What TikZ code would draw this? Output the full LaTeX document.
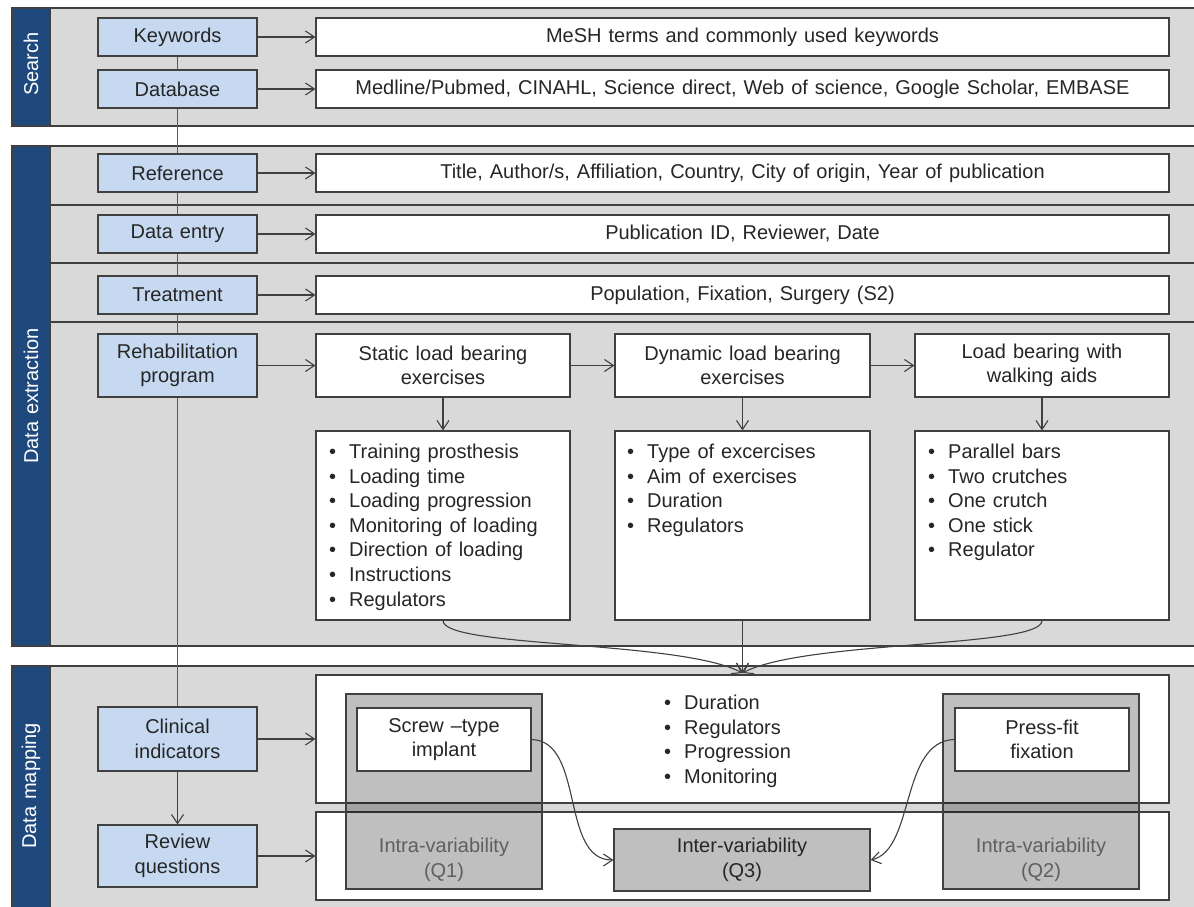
\documentclass[tikz,border=0pt]{standalone}
\usepackage{fontspec}
\setmainfont{Liberation Sans}
\usetikzlibrary{arrows.meta,backgrounds}
\definecolor{panelgray}{HTML}{D9D9D9}
\definecolor{stripblue}{HTML}{1F497D}
\definecolor{boxblue}{HTML}{C6D9F1}
\definecolor{edgecol}{HTML}{404040}
\definecolor{txtcol}{HTML}{262626}
\definecolor{linkcol}{HTML}{5A5A5A}
\definecolor{intratxt}{HTML}{5F5F5F}
\definecolor{interfill}{HTML}{BFBFBF}
\newcommand\lbul{\makebox[20pt][l]{\textbullet}}
\newcommand\diagfont{\fontsize{20}{24.6}\selectfont\fontdimen2\font=7pt\relax}
\begin{document}
\begin{tikzpicture}[x=1pt,y=-1pt,
  font=\diagfont, text=txtcol,
  panel/.style={fill=panelgray, draw=edgecol, line width=1.2pt},
  strip/.style={fill=stripblue, draw=edgecol, line width=1.2pt},
  striplabel/.style={rotate=90, text=white, inner sep=0pt},
  bluebox/.style={draw=edgecol, line width=1.2pt, fill=boxblue, inner sep=0pt, align=center, minimum width=159pt},
  whitebox/.style={draw=edgecol, line width=1.2pt, fill=white, inner sep=0pt, align=center},
  listtext/.style={anchor=north west, inner sep=0pt, align=left},
  intrabox/.style={draw=edgecol, line width=1.2pt, fill=black, fill opacity=0.25, minimum width=196pt, minimum height=195pt},
  arr/.style={draw=edgecol, line width=1.1pt, -{Straight Barb[length=9pt,width=12pt,line width=1.1pt]}},
  link/.style={draw=linkcol, line width=1.4pt}]

\useasboundingbox (0,0) rectangle (1194,906);

% ---- left blue boxes
\node[bluebox, minimum height=38pt] (keywords) at (177.5,37) {Keywords};
\node[bluebox, minimum height=38pt] (database) at (177.5,89) {Database};
\node[bluebox, minimum height=38pt] (reference) at (177.5,173) {Reference};
\node[bluebox, minimum height=38pt] (dataentry) at (177.5,234) {Data entry};
\node[bluebox, minimum height=38pt] (treatment) at (177.5,295) {Treatment};
\node[bluebox, minimum height=63pt] (rehab) at (177.5,365.5) {Rehabilitation\\program};
\node[bluebox, minimum height=64pt] (clinical) at (177.5,739) {Clinical\\indicators};
\node[bluebox, minimum height=62pt] (review) at (177.5,856) {Review\\questions};

% ---- right wide boxes
\node[whitebox, minimum width=853pt, minimum height=38pt] (kwtext) at (742.5,37) {MeSH terms and commonly used keywords};
\node[whitebox, minimum width=853pt, minimum height=38pt] (dbtext) at (742.5,89) {Medline/Pubmed, CINAHL, Science direct, Web of science, Google Scholar, EMBASE};
\node[whitebox, minimum width=853pt, minimum height=38pt] (reftext) at (742.5,173) {Title, Author/s, Affiliation, Country, City of origin, Year of publication};
\node[whitebox, minimum width=853pt, minimum height=38pt] (detext) at (742.5,234) {Publication ID, Reviewer, Date};
\node[whitebox, minimum width=853pt, minimum height=38pt] (trtext) at (742.5,295) {Population, Fixation, Surgery (S2)};

% ---- rehabilitation row
\node[whitebox, minimum width=254pt, minimum height=63pt] (static) at (443,365.5) {Static load bearing\\exercises};
\node[whitebox, minimum width=255pt, minimum height=63pt] (dynamic) at (742.5,365.5) {Dynamic load bearing\\exercises};
\node[whitebox, minimum width=254pt, minimum height=63pt] (walking) at (1042,365.5) {Load bearing with\\walking aids};

\node[whitebox, minimum width=254pt, minimum height=189pt] (list1) at (443,525.5) {};
\node[whitebox, minimum width=255pt, minimum height=189pt] (list2) at (742.5,525.5) {};
\node[whitebox, minimum width=254pt, minimum height=189pt] (list3) at (1042,525.5) {};

\node[listtext] (list1txt) at (329,441) {\strut\lbul Training prosthesis\\\lbul Loading time\\\lbul Loading progression\\\lbul Monitoring of loading\\\lbul Direction of loading\\\lbul Instructions\\\lbul Regulators};
\node[listtext] (list2txt) at (627,441) {\strut\lbul Type of excercises\\\lbul Aim of exercises\\\lbul Duration\\\lbul Regulators};
\node[listtext] (list3txt) at (928,441) {\strut\lbul Parallel bars\\\lbul Two crutches\\\lbul One crutch\\\lbul One stick\\\lbul Regulator};

% ---- data mapping
\node[whitebox, minimum width=853pt, minimum height=128pt] (maptop) at (742.5,739) {};
\node[whitebox, minimum width=853pt, minimum height=88pt] (mapbot) at (742.5,856) {};
\node[listtext] (maplist) at (664,692) {\strut\lbul Duration\\\lbul Regulators\\\lbul Progression\\\lbul Monitoring};

\node[intrabox] (intra1) at (444,791.5) {};
\node[intrabox] (intra2) at (1041,791.5) {};
\node[whitebox, minimum width=174pt, minimum height=63pt] (screw) at (444,739.5) {Screw –type\\implant};
\node[whitebox, minimum width=174pt, minimum height=63pt] (press) at (1042,739.5) {Press-fit\\fixation};
\node[align=center, text=intratxt, inner sep=0pt] (intra1txt) at (444,860) {Intra-variability\\(Q1)};
\node[align=center, text=intratxt, inner sep=0pt] (intra2txt) at (1041,860) {Intra-variability\\(Q2)};
\node[draw=edgecol, line width=1.2pt, fill=interfill, align=center, inner sep=0pt, minimum width=256pt, minimum height=62pt] (inter) at (742,860) {Inter-variability\\(Q3)};

\coordinate (merge) at (742.5,673);

% ---- background panels and spine
\begin{pgfonlayer}{background}
  \draw[panel] (12,8) rectangle (1210,126);
  \draw[strip] (12,8) rectangle (50,126);
  \draw[panel] (12,146) rectangle (1210,646);
  \draw[strip] (12,146) rectangle (50,646);
  \draw[edgecol, line width=1.2pt] (50,205) -- (1210,205);
  \draw[edgecol, line width=1.2pt] (50,263) -- (1210,263);
  \draw[edgecol, line width=1.2pt] (50,322) -- (1210,322);
  \draw[panel] (12,666) rectangle (1210,920);
  \draw[strip] (12,666) rectangle (50,920);
  \node[striplabel] (lsearch) at (31,64) {Search};
  \node[striplabel] (lextract) at (31,396) {Data extraction};
  \node[striplabel] (lmapping) at (31,786) {Data mapping};
  \draw[link] (keywords.south) -- (clinical.north);
\end{pgfonlayer}

% ---- arrows
\draw[arr] (keywords.east) -- (kwtext.west);
\draw[arr] (database.east) -- (dbtext.west);
\draw[arr] (reference.east) -- (reftext.west);
\draw[arr] (dataentry.east) -- (detext.west);
\draw[arr] (treatment.east) -- (trtext.west);
\draw[arr] (rehab.east) -- (static.west);
\draw[arr] (static.east) -- (dynamic.west);
\draw[arr] (dynamic.east) -- (walking.west);
\draw[arr] (static.south) -- (list1.north);
\draw[arr] (dynamic.south) -- (list2.north);
\draw[arr] (walking.south) -- (list3.north);
\draw[arr] (list1.south) .. controls (443,648) and (680,640) .. (merge);
\draw[arr] (list2.south) -- (merge);
\draw[arr] (list3.south) .. controls (1042,648) and (805,640) .. (merge);
\draw[arr] (clinical.east) -- (maptop.west |- clinical.east);
\draw[arr] (review.east) -- (mapbot.west |- review.east);
\draw[arr] (clinical.south) -- (review.north);
\draw[arr] (screw.east) .. controls (585,741) and (560,860) .. (inter.west);
\draw[arr] (press.west) .. controls (900,741) and (915,850) .. (inter.east);
\end{tikzpicture}
\end{document}
